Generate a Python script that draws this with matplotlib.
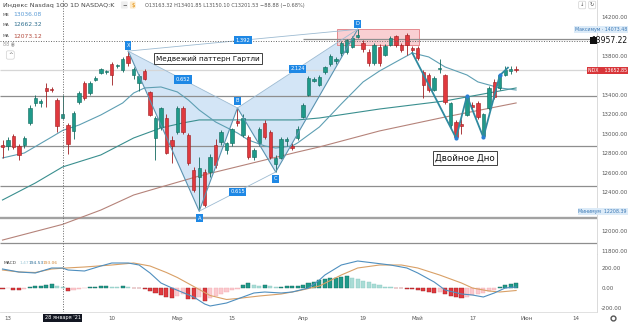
import numpy as np
import matplotlib
matplotlib.use('Agg')
import matplotlib.pyplot as plt
from matplotlib.patches import Rectangle, Polygon
from matplotlib.lines import Line2D

W, H = 628, 324

# daily bars, index 0 = 12 Jan 2021 (index 11 = 28 Jan, crosshair bar)
opens = [12887, 12877, 12980, 12877, 12887, 13113, 13318, 13320, 13472, 13465,
         13350, 13163.32, 13092, 13031, 13328, 13523, 13420, 13555, 13625, 13636,
         13718, 13695, 13657, 13800, 13600, 13523, 13650, 13431, 12959, 13072,
         13164, 12938, 13021, 13267, 12990, 12631, 12560, 12610, 12610, 12887,
         12918, 12840, 12908, 13130, 12990, 12969, 12764, 12908, 13113, 13021,
         12690, 12754, 12930, 12880, 12959, 13174, 13400, 13545, 13503, 13637,
         13718, 13745, 13831, 13840, 13893, 13995, 13934, 13841, 13728, 13893,
         13811, 13913, 14000, 13913, 14016, 13880, 13882, 13636, 13605, 13451,
         13670, 13605, 13090, 13123, 13102, 13195, 13298, 13318, 12980, 13267,
         13533, 13472, 13605, 13650, 13670]
highs = [12938, 12969, 13000, 12900, 12980, 13300, 13400, 13360, 13520, 13480,
         13370, 13401.85, 13110, 13240, 13440, 13540, 13540, 13590, 13680, 13660,
         13740, 13720, 13790, 13850, 13690, 13610, 13670, 13440, 13180, 13280,
         13200, 12980, 13290, 13290, 13010, 12660, 12760, 12640, 12790, 12950,
         13040, 12920, 13060, 13267, 13200, 12990, 12860, 13070, 13140, 13040,
         12780, 12970, 12970, 12910, 13080, 13320, 13590, 13580, 13600, 13700,
         13820, 13790, 13950, 13975, 14000, 14073.48, 13960, 13870, 13930, 13920,
         13920, 14000, 14020, 13930, 14040, 13900, 13900, 13660, 13630, 13590,
         13770, 13620, 13330, 13140, 13150, 13400, 13330, 13340, 13220, 13490,
         13560, 13620, 13700, 13700, 13700]
lows = [12754, 12836, 12850, 12730, 12860, 13090, 13290, 13280, 13280, 13430,
        13020, 13150.10, 12790, 12950, 13310, 13350, 13400, 13540, 13610, 13620,
        13500, 13680, 13640, 13700, 13560, 13440, 13550, 13180, 12733, 13040,
        12790, 12700, 13000, 13000, 12680, 12400, 12208.39, 12250, 12560, 12650,
        12890, 12790, 12880, 13080, 12970, 12740, 12730, 12880, 12950, 12740,
        12610, 12740, 12880, 12840, 12940, 13160, 13390, 13530, 13490, 13620,
        13700, 13720, 13800, 13820, 13880, 13980, 13840, 13700, 13710, 13700,
        13800, 13900, 13890, 13840, 13811, 13820, 13760, 13370, 13430, 13440,
        13626, 13310, 13060, 12959, 13000, 13180, 13250, 13150, 12959, 13250,
        13360, 13450, 13590, 13620, 13640]
closes = [12867, 12938, 12867, 12785, 12959, 13267, 13370, 13335, 13441, 13450,
          13082, 13201.53, 12897, 13215, 13420, 13370, 13523, 13575, 13667, 13648,
          13605, 13705, 13770, 13728, 13667, 13595, 13565, 13195, 13164, 13267,
          12805, 12877, 13267, 13021, 12702, 12425, 12651, 12272, 12764, 12682,
          13021, 12908, 13051, 13110, 13164, 12764, 12836, 13051, 12969, 12764,
          12754, 12948, 12945, 12860, 13051, 13298, 13575, 13565, 13585, 13687,
          13800, 13770, 13934, 13960, 13985, 14016, 13872, 13728, 13913, 13728,
          13903, 13985, 13913, 13862, 13913, 13860, 13780, 13503, 13451, 13574,
          13680, 13328, 13318, 12969, 13082, 13380, 13277, 13174, 13205, 13472,
          13380, 13605, 13657, 13665, 13652.85]

# moving averages read at sampled bars
ma_fast_k = [0, 4, 9, 11, 14, 18, 22, 24, 26, 29, 32, 34, 36, 39, 43, 45, 48, 50,
             53, 54, 58, 62, 66, 69, 73, 75, 78, 81, 85, 87, 91, 94]
ma_fast = [12754, 12805, 12969, 13036, 13092, 13195, 13318, 13420, 13472, 13482,
           13431, 13349, 13246, 13123, 13010, 12938, 12877, 12856, 12877, 12908,
           13072, 13308, 13534, 13646, 13770, 13831, 13790, 13687, 13605, 13534,
           13472, 13451]
ma_mid_k = [0, 6, 11, 18, 24, 29, 33, 36, 45, 54, 58, 69, 81, 87, 94]
ma_mid = [12323, 12497, 12662, 12785, 12959, 13062, 13113, 13144, 13144, 13144,
          13164, 13256, 13339, 13400, 13472]
ma_slow_k = [0, 11, 18, 24, 29, 36, 45, 54, 58, 69, 81, 94]
ma_slow = [11912, 12073, 12220, 12374, 12456, 12569, 12692, 12815, 12867, 13031,
           13174, 13318]

# MACD pane
macd_k = [0, 3, 6, 9, 11, 12, 15, 18, 20, 23, 25, 27, 29, 31, 33, 35, 37, 38, 41,
          43, 46, 48, 51, 53, 56, 58, 59, 62, 65, 68, 71, 74, 76, 79, 81, 84, 86,
          88, 90, 92, 94]
macd = [185, 155, 145, 195, 194.53, 175, 165, 215, 245, 245, 225, 145, 45, -5,
        -50, -95, -165, -185, -155, -115, -55, -45, -55, -45, -5, 75, 125, 225,
        265, 245, 225, 195, 145, 55, -25, -65, -75, -95, -55, -5, 5]
signal_k = [0, 3, 6, 9, 11, 15, 20, 24, 27, 30, 32, 34, 36, 38, 41, 43, 47, 51,
            54, 58, 62, 65, 69, 73, 76, 80, 84, 86, 89, 91, 94]
signal = [175, 155, 150, 185, 193.06, 205, 225, 245, 215, 150, 100, 40, -20, -80,
          -120, -110, -85, -65, -35, 15, 125, 195, 225, 225, 195, 125, 45, -5,
          -35, -45, -30]
hist = [-15, -5, -20, -25, -10, 10, 15, 20, 28, 32, 12, 1.47, -30, -20, -10, -5,
        5, 8, 15, 18, 10, 8, 12, 5, -5, -8, -17, -30, -57, -73, -90, -107, -80,
        -60, -110, -117, -95, -133, -100, -80, -60, -45, -25, -10, 30, 50, 25,
        15, 25, 20, 6, 8, 12, 15, 20, 30, 45, 60, 75, 85, 95, 100, 105, 115, 95,
        85, 70, 55, 40, 25, 10, 3, -3, -8, -12, -18, -25, -35, -45, -55, -45,
        -65, -80, -95, -105, -90, -75, -60, -50, -35, -20, 10, 25, 35, 45]

# Gartley pattern X A B C D
pat_names = ['X', 'A', 'B', 'C', 'D']
pat_k = [23, 36, 43, 50, 65]
pat_p = [13850, 12208.39, 13267, 12610, 14073.48]
ratio_text = ['0.652', '0.615', '2.124', '1.392']
ratio_pairs = [(0, 2), (1, 3), (2, 4), (0, 4)]

# double bottom drawing
db_k = [75, 83, 85, 88, 91, 92.5]
db_p = [13831, 12959, 13390, 12965, 13600, 13680]

levels = [13390, 12877, 12467, 11882]
thick_level = 12138
top_level = 13975
cross_price = 13957.22
last_price = 13652.85
price_max = 14073.48
price_min = 12208.39

xtick_k = [1, 20, 32, 42, 55, 66, 76, 86, 96, 105]
xtick_lab = ['13', '10', 'Мар', '15', 'Апр', '19', 'Май', '17', 'Июн', '14']
price_ticks = [14200, 13800, 13400, 13200, 13000, 12800, 12600, 12400, 12000, 11800]

UP, UP_E = '#1f9a8a', '#11685d'
DN, DN_E = '#e0393e', '#9e1c1f'
C_FAST, C_MID, C_SLOW = '#5e9fb3', '#3a8f8f', '#b5837a'
BLUE = '#1e88e5'

K0, K1 = -0.458, 108.8
P_TOP, P_BOT = 14374, 11769


def fx(x):
    return x / W


def fy(y):
    return 1 - y / H


def py(p):
    # price -> pixel row in the picture
    return 134 - (p - 13000) * 0.0975


def kx(k):
    return 2.5 + 5.463 * k


fig = plt.figure(figsize=(W / 100, H / 100), dpi=100)
fig.patch.set_facecolor('white')
ax = fig.add_axes([0, fy(254), fx(597), 254 / H])
axm = fig.add_axes([0, fy(312), fx(597), (312 - 254) / H], sharex=ax)

for a in (ax, axm):
    for s in ('top', 'left'):
        a.spines[s].set_visible(False)
    a.spines['right'].set_color('#d5d5d5')
    a.spines['bottom'].set_color('#dcdcdc')
    a.spines['right'].set_linewidth(0.6)
    a.spines['bottom'].set_linewidth(0.6)
    a.yaxis.tick_right()
    a.tick_params(axis='y', length=0, pad=3, labelsize=4, labelcolor='#555')
    a.set_facecolor('white')

ax.set_xlim(K0, K1)
ax.set_ylim(P_BOT, P_TOP)
ax.set_yticks(price_ticks)
ax.set_yticklabels(['%.2f' % v for v in price_ticks])
ax.tick_params(axis='x', length=0, labelbottom=False)

# horizontal levels
ax.hlines(levels, K0, K1, colors='#8e8e8e', lw=0.9, zorder=1.5)
ax.hlines(thick_level, K0, K1, colors='#a2a2a2', lw=1.7, zorder=1.5)
ax.hlines(top_level, 55, K1, colors='#8e8e8e', lw=0.9, zorder=1.5)
ax.hlines(last_price, K0, K1, colors='#d6d6d6', lw=0.9, zorder=1.4)

# pattern shading
xy = list(zip(pat_k, pat_p))
ax.add_patch(Polygon([xy[0], xy[1], xy[2]], closed=True, fc='#d3e5f6', ec='none', zorder=1))
ax.add_patch(Polygon([xy[2], xy[3], xy[4]], closed=True, fc='#d3e5f6', ec='none', zorder=1))
ax.add_patch(Rectangle((61.2, 13915), 15, 160, fc='#f9cfd2', ec='#e27b80', lw=0.6, zorder=1.2))

# moving averages
ax.plot(ma_slow_k, ma_slow, color=C_SLOW, lw=0.8, zorder=2)
ax.plot(ma_mid_k, ma_mid, color=C_MID, lw=0.8, zorder=2)
ax.plot(ma_fast_k, ma_fast, color=C_FAST, lw=0.8, zorder=2)

# candles
o = np.array(opens, float)
h = np.array(highs, float)
l = np.array(lows, float)
c = np.array(closes, float)
k = np.arange(len(o))
up = c >= o
fc = np.where(up, UP, DN)
ec = np.where(up, UP_E, DN_E)
ax.vlines(k, l, h, colors=ec, lw=0.6, zorder=3)
body = np.maximum(np.abs(c - o), 8)
ax.bar(k, body, bottom=np.minimum(o, c), width=0.62, color=fc, edgecolor=ec, lw=0.4, zorder=3.5)

# pattern lines and labels
ax.plot(pat_k, pat_p, color='#5a93b0', lw=0.8, zorder=4)
for (i, j), t in zip(ratio_pairs, ratio_text):
    ax.plot([pat_k[i], pat_k[j]], [pat_p[i], pat_p[j]], color='#9dbbd2', lw=0.6, zorder=4)
    ax.text((pat_k[i] + pat_k[j]) / 2, (pat_p[i] + pat_p[j]) / 2, t, ha='center', va='center',
            fontsize=3.7, color='white', zorder=6,
            bbox=dict(boxstyle='square,pad=0.3', fc=BLUE, ec='none'))
offs = [4, -5, 5, -5, 4]
for n, kk, pp, dy in zip(pat_names, pat_k, pat_p, offs):
    ax.annotate(n, (kk, pp), xytext=(0, dy), textcoords='offset points', ha='center',
                va='center', fontsize=3.7, color='white', zorder=6,
                bbox=dict(boxstyle='square,pad=0.3', fc=BLUE, ec='none'))

# double bottom
ax.plot(db_k, db_p, color='#2f8aa0', lw=1.3, zorder=4.5)
ax.plot(db_k[1:-1], db_p[1:-1], 'o', color='#2a7fd4', ms=2, zorder=4.6)

ax.text(37.6, 13770, 'Медвежий паттерн Гартли', ha='center', va='center', fontsize=5.2,
        color='#111', zorder=6, bbox=dict(boxstyle='square,pad=0.3', fc='white', ec='#222', lw=0.6))
ax.text(84.7, 12754, 'Двойное Дно', ha='center', va='center', fontsize=6.3,
        color='#111', zorder=6, bbox=dict(boxstyle='square,pad=0.25', fc='white', ec='#222', lw=0.6))

# crosshair
ax.axhline(cross_price, color='#666', lw=0.7, ls=(0, (1, 1.6)), zorder=5)
ax.axvline(11, color='#666', lw=0.7, ls=(0, (1, 1.6)), zorder=5)
axm.axvline(11, color='#666', lw=0.7, ls=(0, (1, 1.6)), zorder=5)

# MACD pane
axm.set_ylim(-245, 335)
axm.set_yticks([200, 0, -200])
axm.set_yticklabels(['200.00', '0.00', '-200.00'])
hcol, hedge = [], []
for i, v in enumerate(hist):
    prev = hist[i - 1] if i > 0 else 0
    if v >= 0:
        hcol.append('#1f9a8a' if v > prev else '#a9dcd6')
        hedge.append('#11685d' if v > prev else '#8ccac2')
    else:
        hcol.append('#e0393e' if v < prev else '#fbc9ce')
        hedge.append('#9e1c1f' if v < prev else '#f2aab1')
axm.bar(np.arange(len(hist)), hist, width=0.75, color=hcol, edgecolor=hedge, lw=0.3, zorder=2)
axm.plot(signal_k, signal, color='#d9a066', lw=0.8, zorder=3)
axm.plot(macd_k, macd, color='#4f8fbf', lw=0.8, zorder=3)
axm.set_xticks(xtick_k)
axm.set_xticklabels(xtick_lab)
axm.tick_params(axis='x', length=0, pad=3, labelsize=4, labelcolor='#555')

# header and legends
fig.text(fx(3), fy(5), 'Индекс Nasdaq 100 1D NASDAQ:K', fontsize=4.6, color='#444', va='center')
fig.text(fx(122), fy(5), '−', fontsize=4, color='#444', va='center',
         bbox=dict(boxstyle='round,pad=0.2', fc='#eeeeee', ec='none'))
fig.text(fx(131), fy(5), '$', fontsize=4, color='#e08a00', va='center',
         bbox=dict(boxstyle='round,pad=0.2', fc='#fde9c8', ec='none'))
fig.text(fx(145), fy(5), 'O13163.32 H13401.85 L13150.10 C13201.53 −88.88 (−0.68%)',
         fontsize=3.6, color='#555', va='center')
for yy, nm, val, col in [(15, 'MB', '13036.08', '#5b9bd5'), (25, 'MA', '12662.32', '#2f6f8f'),
                         (36, 'MA', '12073.12', '#b34a3c')]:
    fig.text(fx(3), fy(yy), nm, fontsize=3.2, color='#555', va='center')
    fig.text(fx(13), fy(yy), val, fontsize=4.3, color=col, va='center')
fig.text(fx(3), fy(44), '88 ◉', fontsize=3.4, color='#999', va='center')
fig.text(fx(8), fy(55), '^', fontsize=4, color='#555', va='center',
         bbox=dict(boxstyle='round,pad=0.3', fc='white', ec='#d0d0d0', lw=0.5))
fig.text(fx(580), fy(5), '↓', fontsize=3.8, color='#555', va='center',
         bbox=dict(boxstyle='round,pad=0.25', fc='white', ec='#d0d0d0', lw=0.5))
fig.text(fx(590), fy(5), '↻', fontsize=3.8, color='#555', va='center',
         bbox=dict(boxstyle='round,pad=0.25', fc='white', ec='#d0d0d0', lw=0.5))

fig.text(fx(4), fy(263), 'MACD', fontsize=3.2, color='#444', va='center')
fig.text(fx(20), fy(263), '1.47', fontsize=3.2, color='#9fc9d9', va='center')
fig.text(fx(29), fy(263), '194.53', fontsize=3.2, color='#2c6e99', va='center')
fig.text(fx(43), fy(263), '193.06', fontsize=3.2, color='#d48a3c', va='center')

# right-axis labels
fig.text(fx(627), fy(py(price_max)), 'Максимум · 14073.48', ha='right', va='center', fontsize=3.4,
         color='#3d79b5', bbox=dict(boxstyle='square,pad=0.2', fc='#dcebf8', ec='none'))
fig.text(fx(627), fy(py(price_min)), 'Минимум  12208.39', ha='right', va='center', fontsize=3.4,
         color='#3d79b5', bbox=dict(boxstyle='square,pad=0.2', fc='#dcebf8', ec='none'))
fig.text(fx(627), fy(py(last_price)), 'NDX    13652.85', ha='right', va='center', fontsize=3.4,
         color='white', bbox=dict(boxstyle='square,pad=0.2', fc='#d8363a', ec='none'))
fig.text(fx(627), fy(py(cross_price)), '13957.22', ha='right', va='center', fontsize=5.5, color='#111')
fig.add_artist(Rectangle((fx(590), fy(py(cross_price)) - 3.5 / H), 7 / W, 7 / H,
                         transform=fig.transFigure, fc='#111', ec='none'))
fig.text(fx(kx(11)), fy(318), "28 января '21", ha='center', va='center', fontsize=3.6,
         color='white', bbox=dict(boxstyle='square,pad=0.3', fc='#131722', ec='none'))
fig.add_artist(Line2D([fx(613)], [fy(318)], marker='o', mfc='none', mec='#555', ms=3.5,
                      transform=fig.transFigure))

fig.savefig('out.png', dpi=100)
